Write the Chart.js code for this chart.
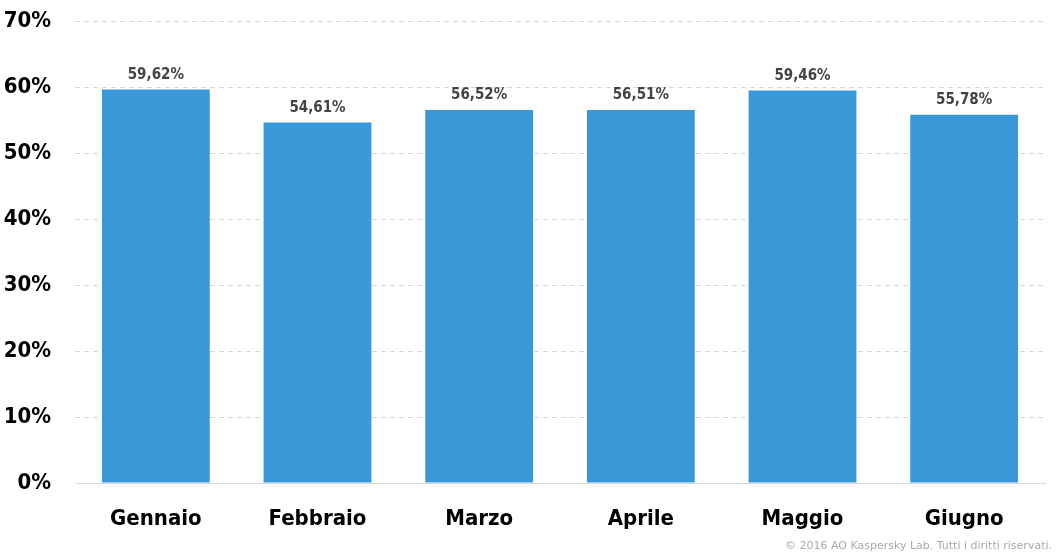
<!DOCTYPE html>
<html><head><meta charset="utf-8">
<script src="https://cdn.jsdelivr.net/npm/chart.js@4"></script>
<style>html,body{margin:0;padding:0;background:#fff}#wrap{width:1062px;height:560px;position:relative}</style>
</head><body><div id="wrap"><canvas id="c" width="1062" height="560"></canvas></div>
<script>
const categories = ["Gennaio","Febbraio","Marzo","Aprile","Maggio","Giugno"];
const values = [59.62, 54.61, 56.52, 56.51, 59.46, 55.78];
const valueLabels = ["59,62%","54,61%","56,52%","56,51%","59,46%","55,78%"];
const copyright = "© 2016 AO Kaspersky Lab. Tutti i diritti riservati.";
const FONT = "'Liberation Sans Narrow','DejaVu Sans Condensed',sans-serif";

const labelPlugin = {
  id:'lbl',
  afterDatasetsDraw(chart){
    const ctx = chart.ctx;
    const meta = chart.getDatasetMeta(0);
    ctx.save();
    ctx.font = "bold 15px " + FONT;
    ctx.fillStyle = "#444";
    ctx.textAlign = "center";
    ctx.textBaseline = "bottom";
    meta.data.forEach((bar,i)=>{ ctx.fillText(valueLabels[i], bar.x, bar.y - 7); });
    ctx.font = "11px 'DejaVu Sans',sans-serif";
    ctx.fillStyle = "#aaa";
    ctx.textAlign = "right";
    ctx.textBaseline = "middle";
    ctx.fillText(copyright, 1052, 546);
    ctx.restore();
  }
};

new Chart(document.getElementById('c'), {
  type:'bar',
  data:{ labels:categories, datasets:[{ data:values, backgroundColor:'#3a98d8', categoryPercentage:0.667, barPercentage:1 }]},
  options:{
    responsive:false, animation:false,
    layout:{ padding:{ top:21, right:17, left:0, bottom:0 } },
    plugins:{ legend:{display:false}, tooltip:{enabled:false} },
    scales:{
      x:{
        grid:{ display:false, drawTicks:false },
        border:{ display:true, color:'#d9d9d9', width:1 },
        ticks:{ color:'#000', padding:23, font:{ family:FONT, size:22, weight:'bold' } },
        afterFit(s){ s.height = 77; s.paddingLeft = 0; s.paddingRight = 0; }
      },
      y:{
        min:0, max:70,
        ticks:{ stepSize:10, color:'#000', padding:24, callback:v=>v+'%', font:{ family:FONT, size:22, weight:'bold' } },
        grid:{ color:'#d6d6d6', drawTicks:false },
        border:{ display:false, dash:[5,4] },
        afterFit(s){ s.width = 75; s.paddingTop = 0; s.paddingBottom = 0; }
      }
    }
  },
  plugins:[labelPlugin]
});
</script></body></html>
